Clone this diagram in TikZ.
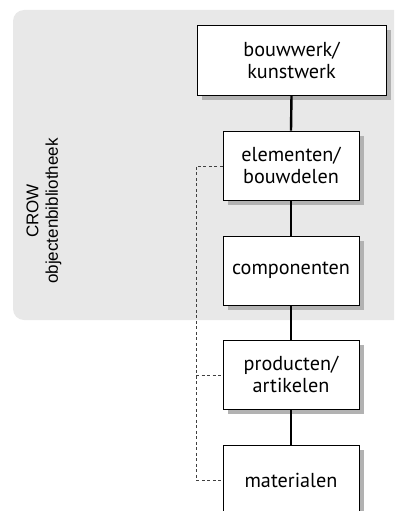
\documentclass[tikz,border=0pt]{standalone}
\usepackage{fontspec}
\setmainfont{PT Sans}
\newfontfamily\labelfont{Liberation Sans}
\begin{document}
\begin{tikzpicture}[x=1pt,y=-1pt,
  box/.style={draw=black,line width=0.9pt,fill=white,align=center,
    font=\fontsize{20.2}{22}\selectfont,inner sep=0pt,
    minimum width=136pt,minimum height=69pt},
  link/.style={line width=2.4pt,black},
  dashline/.style={line width=0.8pt,black!75,dash pattern=on 3pt off 2.5pt}]
\useasboundingbox (0,0) rectangle (394,511);
\begin{scope}
\clip (0,0) rectangle (394,511);
\fill[black!9,rounded corners=11pt] (13,10) rectangle (420,320);
% shadows
\fill[black!30] (202,30) rectangle (391,100);
\fill[black!30] (228,136) rectangle (364,205);
\fill[black!30] (228,241) rectangle (364,310);
\fill[black!30] (228,345) rectangle (364,414);
\fill[black!30] (228,450) rectangle (364,520);
\node[box,minimum width=189pt,minimum height=70pt] (a) at (291.5,60) {bouwwerk/\\kunstwerk};
\node[box] (b) at (291,165.5) {elementen/\\bouwdelen};
\node[box] (c) at (291,270.5) {componenten};
\node[box] (d) at (291,374.5) {producten/\\artikelen};
\node[box] (e) at (291,480) {materialen};
\draw[link] (a.south) -- (b.north);
\draw[link] (b.south) -- (c.north);
\draw[link] (c.south) -- (d.north);
\draw[link] (d.south) -- (e.north);
\coordinate (v1) at (196,166);
\coordinate (v2) at (196,375);
\coordinate (v3) at (196,480);
\draw[dashline] (b.west |- v1) -- (v1) -- (v3) -- (e.west |- v3);
\draw[dashline] (v2) -- (d.west |- v2);
\node[rotate=90,align=center,font=\labelfont\fontsize{17}{19.5}\selectfont] (lbl) at (44,211) {CROW\\objectenbibliotheek};
\end{scope}
\end{tikzpicture}
\end{document}
